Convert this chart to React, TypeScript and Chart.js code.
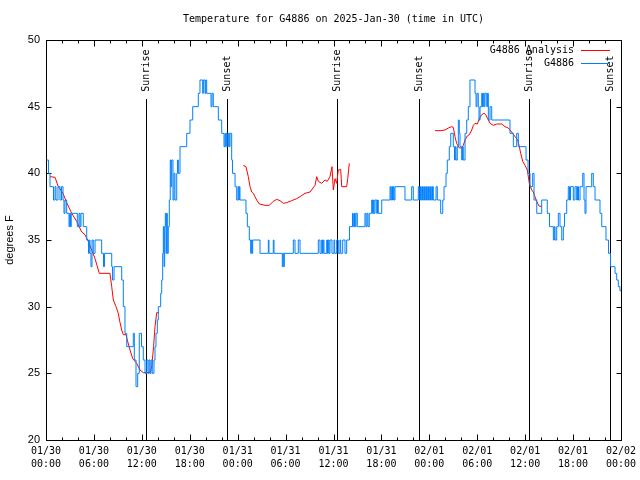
import React, { useEffect, useRef } from 'react';
import { Chart, registerables } from 'chart.js';

Chart.register(...registerables);

const TITLE = 'Temperature for G4886 on 2025-Jan-30 (time in UTC)';
const Y_TITLE = 'degrees F';
const RED = '#ff0000';
const BLUE = '#0080ff';

// x axis: hours since 2025-01-30 00:00 UTC
const xTickHours = [0, 6, 12, 18, 24, 30, 36, 42, 48, 54, 60, 66, 72];
const xTickDays = ['01/30', '01/30', '01/30', '01/30', '01/31', '01/31', '01/31', '01/31', '02/01', '02/01', '02/01', '02/01', '02/02'];
const xTickTimes = ['00:00', '06:00', '12:00', '18:00', '00:00', '06:00', '12:00', '18:00', '00:00', '06:00', '12:00', '18:00', '00:00'];
const yTicks = [20, 25, 30, 35, 40, 45, 50];

// sunrise / sunset events (hours)
const sunHours = [12.56, 22.70, 36.48, 46.67, 60.52, 70.66];
const sunLabels = ['Sunrise', 'Sunset', 'Sunrise', 'Sunset', 'Sunrise', 'Sunset'];
const sunLineTop = 45.6;

// observed G4886 [hour, degF]
const blueObs: [number, number][] = [
  [0.06, 41], [0.31, 40], [0.50, 39], [0.94, 38], [1.13, 39], [1.25, 38], [1.50, 39], [1.75, 38], [1.94, 39], [2.13, 38],
  [2.25, 37], [2.38, 38], [2.59, 37], [2.88, 36], [2.97, 37], [3.07, 36], [3.16, 37], [3.92, 36], [4.13, 37], [4.26, 36],
  [4.38, 37], [4.67, 36], [5.10, 35], [5.32, 34], [5.42, 35], [5.51, 34], [5.63, 33], [5.76, 35], [5.92, 34], [6.14, 35],
  [6.97, 34], [7.20, 33], [7.33, 34], [8.23, 33], [8.33, 32], [8.52, 33], [9.48, 32], [9.68, 30], [9.89, 28], [10.11, 27],
  [10.93, 28], [11.06, 26], [11.27, 24], [11.48, 25], [11.68, 28], [11.96, 27], [12.18, 26], [12.40, 25], [12.61, 26], [12.77, 25],
  [12.90, 26], [13.02, 25], [13.15, 26], [13.31, 25], [13.52, 26], [13.65, 27], [13.77, 28], [13.94, 29], [14.06, 30], [14.36, 31],
  [14.49, 32], [14.61, 34], [14.69, 36], [14.78, 33], [14.86, 36], [14.94, 37], [15.03, 34], [15.11, 37], [15.19, 34], [15.31, 36],
  [15.44, 38], [15.56, 41], [15.65, 39], [15.74, 41], [15.90, 38], [16.03, 40], [16.15, 38], [16.37, 40], [16.47, 41], [16.57, 40],
  [16.78, 42], [17.62, 43], [18.03, 44], [18.37, 45], [19.07, 46], [19.28, 47], [19.62, 46], [19.70, 47], [19.91, 46], [20.00, 47],
  [20.12, 46], [20.66, 45], [20.79, 46], [20.95, 45], [21.58, 44], [22.00, 43], [22.29, 42], [22.41, 43], [22.50, 42], [22.58, 43],
  [22.70, 42], [22.83, 43], [22.95, 42], [23.04, 43], [23.25, 41], [23.35, 40], [23.67, 39], [23.88, 38], [24.04, 39], [24.13, 38],
  [24.21, 39], [24.29, 38], [25.04, 37], [25.21, 36], [25.46, 35], [25.63, 34], [25.71, 35], [25.80, 34], [25.88, 35], [26.80, 34],
  [27.84, 35], [27.92, 34], [28.46, 35], [28.55, 34], [29.59, 33], [29.68, 34], [29.77, 33], [29.84, 34], [30.97, 35], [31.18, 34],
  [31.59, 35], [31.81, 34], [34.10, 35], [34.31, 34], [34.52, 35], [34.62, 34], [34.72, 35], [34.81, 34], [35.15, 35], [35.25, 34],
  [35.35, 35], [35.44, 34], [35.56, 35], [35.81, 34], [36.06, 35], [36.15, 34], [36.40, 35], [36.60, 34], [36.81, 35], [36.90, 34],
  [37.15, 35], [37.44, 34], [37.65, 35], [38.00, 36], [38.38, 37], [38.48, 36], [38.63, 37], [38.72, 36], [38.82, 37], [38.98, 36],
  [39.94, 37], [40.07, 36], [40.20, 37], [40.32, 36], [40.48, 37], [40.78, 38], [40.89, 37], [40.99, 38], [41.07, 37], [41.20, 38],
  [41.41, 37], [41.51, 38], [41.61, 37], [42.04, 38], [43.08, 39], [43.18, 38], [43.29, 39], [43.39, 38], [43.49, 39], [43.58, 38],
  [43.70, 39], [44.95, 38], [45.79, 39], [45.99, 38], [46.62, 39], [46.75, 38], [46.90, 39], [47.00, 38], [47.15, 39], [47.25, 38],
  [47.40, 39], [47.50, 38], [47.65, 39], [47.75, 38], [47.90, 39], [48.00, 38], [48.15, 39], [48.25, 38], [48.40, 39], [48.50, 38],
  [48.84, 39], [49.00, 38], [49.42, 37], [49.68, 38], [49.84, 39], [50.09, 40], [50.25, 41], [50.50, 42], [50.68, 43], [51.00, 42],
  [51.15, 41], [51.25, 42], [51.34, 41], [51.50, 42], [51.63, 44], [51.75, 43], [51.84, 42], [52.05, 41], [52.15, 42], [52.25, 41],
  [52.47, 43], [52.68, 44], [52.88, 45], [53.09, 47], [53.72, 46], [53.85, 45], [53.97, 46], [54.13, 45], [54.22, 44], [54.35, 45],
  [54.56, 46], [54.66, 45], [54.76, 46], [54.87, 45], [54.97, 46], [55.19, 45], [55.29, 46], [55.39, 44], [55.60, 45], [55.81, 44],
  [58.10, 43], [58.52, 42], [58.94, 43], [59.14, 42], [60.11, 41], [60.36, 40], [60.61, 39], [60.94, 40], [61.11, 38], [61.45, 37],
  [62.07, 38], [62.77, 37], [63.05, 36], [63.53, 35], [63.65, 36], [63.74, 35], [63.95, 36], [64.15, 37], [64.36, 36], [64.58, 35],
  [64.78, 36], [64.93, 37], [65.20, 38], [65.40, 39], [65.55, 38], [65.68, 39], [66.03, 38], [66.24, 39], [66.45, 38], [66.55, 39],
  [66.68, 38], [66.87, 39], [67.21, 40], [67.37, 38], [67.49, 37], [67.62, 39], [68.33, 40], [68.53, 39], [68.75, 38], [69.37, 37],
  [69.59, 36], [70.12, 35], [70.44, 34], [70.69, 33], [71.25, 32.5], [71.46, 32], [71.66, 31.5], [71.87, 31.2], [72.00, 31.2],
];

// G4886 Analysis [hour, degF], three segments
const redSeg1: [number, number][] = [
  [0.50, 39.75], [1.13, 39.7], [1.54, 39.0], [2.13, 38.5], [2.59, 37.8], [3.22, 37.0], [3.84, 36.4], [4.47, 35.6], [4.88, 35.4],
  [5.30, 34.9], [5.72, 34.25], [6.14, 33.6], [6.67, 32.5], [8.01, 32.5], [8.23, 31.5], [8.43, 30.5], [8.77, 30.0], [9.05, 29.5],
  [9.27, 28.8], [9.48, 28.25], [9.68, 27.9], [10.02, 27.9], [10.18, 27.5], [10.52, 26.75], [10.86, 26.1], [11.36, 25.75],
  [11.77, 25.25], [12.18, 25.05], [13.02, 25.05], [13.24, 25.5], [13.47, 27.0], [13.65, 28.5], [13.86, 29.55], [14.15, 29.55],
];
const redSeg2: [number, number][] = [
  [24.71, 40.6], [25.04, 40.5], [25.33, 39.75], [25.55, 39.0], [25.76, 38.6], [25.96, 38.5], [26.38, 38.0], [26.71, 37.7],
  [27.42, 37.6], [27.96, 37.6], [28.46, 37.9], [28.89, 38.05], [29.30, 37.95], [29.71, 37.75], [30.14, 37.8], [30.77, 37.95],
  [31.39, 38.1], [31.81, 38.25], [32.43, 38.5], [33.06, 38.6], [33.69, 39.1], [33.90, 39.75], [34.10, 39.4], [34.52, 39.25],
  [34.94, 39.5], [35.22, 39.4], [35.56, 39.75], [35.81, 40.5], [35.98, 38.75], [36.19, 39.6], [36.40, 39.25], [36.60, 40.25],
  [36.90, 40.3], [37.03, 39.0], [37.65, 39.0], [37.78, 39.6], [37.98, 40.75],
];
const redSeg3: [number, number][] = [
  [48.71, 43.2], [49.34, 43.2], [49.96, 43.25], [50.38, 43.4], [50.80, 43.5], [51.00, 43.45], [51.21, 42.75], [51.42, 42.25],
  [51.75, 41.9], [52.05, 41.9], [52.25, 42.1], [52.47, 42.5], [52.75, 42.8], [53.00, 42.9], [53.31, 43.25], [53.51, 43.6],
  [53.72, 43.75], [54.01, 43.7], [54.26, 44.1], [54.56, 44.4], [54.85, 44.5], [55.06, 44.4], [55.31, 44.1], [55.60, 43.75],
  [56.01, 43.6], [56.44, 43.7], [57.06, 43.7], [57.48, 43.5], [57.89, 43.4], [58.31, 43.1], [58.73, 42.75], [59.07, 42.5],
  [59.27, 42.0], [59.44, 41.5], [59.69, 40.9], [59.98, 40.6], [60.27, 40.25], [60.52, 39.25], [60.82, 38.75], [61.02, 38.6],
  [61.23, 38.25], [61.44, 37.9], [61.73, 37.55], [62.07, 37.5],
];

const MONO = 'DejaVu Sans Mono';
const SANS = 'Liberation Sans';

const toPts = (arr: [number, number][]) => arr.map(([x, y]) => ({ x, y }));

const framePlugin = {
  id: 'gnuplotFrame',
  beforeDatasetsDraw(chart: any) {
    const { ctx, chartArea: a, scales } = chart;
    const xs = scales.x;
    const ys = scales.y;
    const crisp = (v: number) => Math.round(v) + 0.5;
    ctx.save();
    ctx.strokeStyle = '#000';
    ctx.lineWidth = 1;
    ctx.strokeRect(crisp(a.left), crisp(a.top), Math.round(a.right - a.left), Math.round(a.bottom - a.top));
    ctx.beginPath();
    for (let h = 0; h <= 72; h += 2) {
      const px = crisp(xs.getPixelForValue(h));
      const len = xTickHours.includes(h) ? 6 : 3;
      ctx.moveTo(px, crisp(a.bottom));
      ctx.lineTo(px, crisp(a.bottom) - len);
      ctx.moveTo(px, crisp(a.top));
      ctx.lineTo(px, crisp(a.top) + len);
    }
    for (const v of yTicks) {
      const py = crisp(ys.getPixelForValue(v));
      ctx.moveTo(crisp(a.left), py);
      ctx.lineTo(crisp(a.left) + 5, py);
      ctx.moveTo(crisp(a.right), py);
      ctx.lineTo(crisp(a.right) - 5, py);
    }
    ctx.stroke();
    ctx.beginPath();
    const yTop = ys.getPixelForValue(sunLineTop);
    sunHours.forEach((h) => {
      const px = crisp(xs.getPixelForValue(h));
      ctx.moveTo(px, Math.round(yTop));
      ctx.lineTo(px, a.bottom);
    });
    ctx.stroke();
    ctx.fillStyle = '#000';
    ctx.font = `10px "${MONO}"`;
    ctx.textAlign = 'left';
    ctx.textBaseline = 'middle';
    sunHours.forEach((h, i) => {
      const px = xs.getPixelForValue(h);
      ctx.save();
      ctx.translate(px + 0.5, yTop - 7);
      ctx.rotate(-Math.PI / 2);
      ctx.fillText(sunLabels[i], 0, 0);
      ctx.restore();
    });
    ctx.restore();
  },
  afterDraw(chart: any) {
    const { ctx, chartArea: a } = chart;
    const datasets = chart.data.datasets;
    ctx.save();
    // title centred over the plot area
    ctx.fillStyle = '#000';
    ctx.font = `10px "${MONO}"`;
    ctx.textAlign = 'center';
    ctx.textBaseline = 'middle';
    ctx.fillText(TITLE, (a.left + a.right) / 2, 19);
    // legend
    ctx.textAlign = 'right';
    [1, 0].forEach((di, row) => {
      const ds = datasets[di];
      const y = a.top + 10 + row * 13;
      ctx.fillStyle = '#000';
      ctx.fillText(ds.label, a.right - 47, y);
      ctx.strokeStyle = ds.borderColor;
      ctx.lineWidth = 1;
      ctx.beginPath();
      ctx.moveTo(a.right - 40, Math.round(y) + 0.5);
      ctx.lineTo(a.right - 11, Math.round(y) + 0.5);
      ctx.stroke();
    });
    ctx.restore();
  },
};

export default function App() {
  const canvasRef = useRef<HTMLCanvasElement | null>(null);

  useEffect(() => {
    const canvas = canvasRef.current;
    if (!canvas) return;
    const redData = [
      ...toPts(redSeg1),
      { x: 19, y: null },
      ...toPts(redSeg2),
      { x: 43, y: null },
      ...toPts(redSeg3),
    ];
    const chart = new Chart(canvas, {
      type: 'line',
      data: {
        datasets: [
          {
            label: 'G4886',
            data: toPts(blueObs),
            borderColor: BLUE,
            borderWidth: 1,
            stepped: true,
            pointRadius: 0,
            fill: false,
          },
          {
            label: 'G4886 Analysis',
            data: redData as any,
            borderColor: RED,
            borderWidth: 1,
            pointRadius: 0,
            fill: false,
            spanGaps: false,
          },
        ],
      },
      options: {
        animation: false,
        responsive: false,
        devicePixelRatio: 1,
        layout: { padding: { top: 40, right: 19, bottom: 0, left: 0 } },
        plugins: {
          legend: { display: false },
          tooltip: { enabled: false },
          title: { display: false },
        },
        scales: {
          x: {
            type: 'linear',
            min: 0,
            max: 72,
            afterBuildTicks: (s: any) => {
              s.ticks = xTickHours.map((v) => ({ value: v }));
            },
            afterFit: (s: any) => {
              s.height = 40;
              s.paddingLeft = 0;
              s.paddingRight = 0;
            },
            ticks: {
              autoSkip: false,
              maxRotation: 0,
              minRotation: 0,
              padding: 5,
              color: '#000',
              font: { family: MONO, size: 10, lineHeight: 1.3 },
              callback: (v: any) => {
                const i = xTickHours.indexOf(Number(v));
                return i >= 0 ? [xTickDays[i], xTickTimes[i]] : '';
              },
            },
            grid: { display: false, drawTicks: false },
            border: { display: false },
          },
          y: {
            min: 20,
            max: 50,
            afterFit: (s: any) => {
              s.width = 46;
            },
            ticks: {
              stepSize: 5,
              padding: 6,
              color: '#000',
              font: { family: SANS, size: 11 },
            },
            grid: { display: false, drawTicks: false },
            border: { display: false },
            title: {
              display: true,
              text: Y_TITLE,
              color: '#000',
              font: { family: SANS, size: 11 },
              padding: { top: 3, bottom: 0 },
            },
          },
        },
      },
      plugins: [framePlugin],
    });
    return () => chart.destroy();
  }, []);

  return (
    <div style={{ position: 'absolute', left: 0, top: 0, width: 640, height: 480, background: '#fff' }}>
      <canvas ref={canvasRef} width={640} height={480} style={{ display: 'block', width: 640, height: 480 }} />
    </div>
  );
}
